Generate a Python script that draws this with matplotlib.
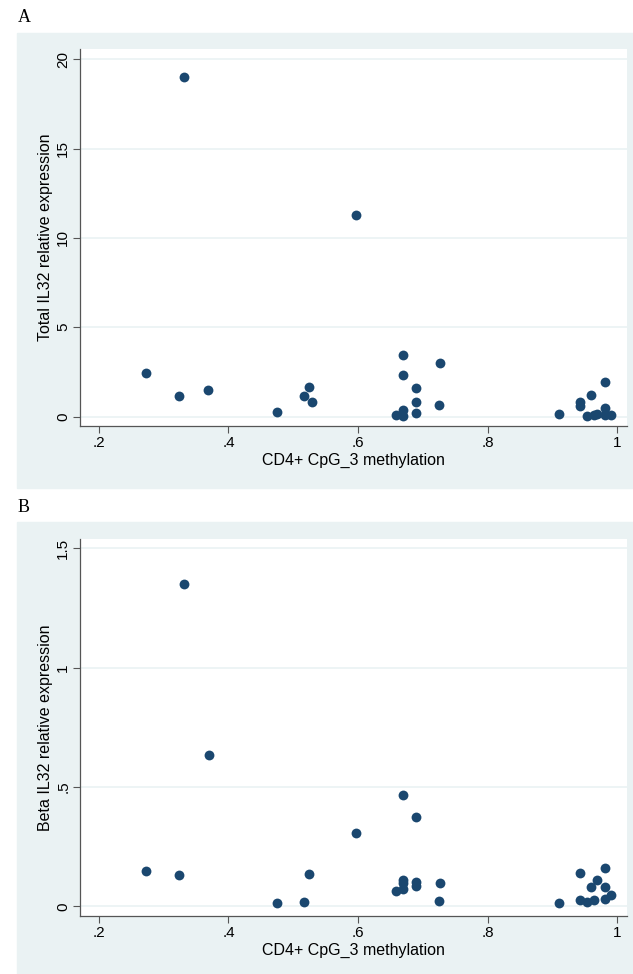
"""Two stacked Stata-style scatter panels: IL32 expression vs CD4+ CpG_3 methylation."""
import matplotlib; matplotlib.use("Agg")
import matplotlib.pyplot as plt
from matplotlib.patches import Rectangle

# panel A: total IL32
xa = [0.331, 0.597, 0.2725, 0.324, 0.369, 0.475, 0.516, 0.525, 0.529, 0.659,
      0.669, 0.669, 0.669, 0.669, 0.690, 0.690, 0.690, 0.726, 0.725, 0.910,
      0.943, 0.943, 0.960, 0.953, 0.964, 0.969, 0.981, 0.981, 0.981, 0.990]
ya = [19.03, 11.3, 2.45, 1.17, 1.49, 0.28, 1.15, 1.66, 0.81, 0.11,
      3.43, 2.32, 0.36, 0.04, 1.62, 0.83, 0.21, 2.98, 0.64, 0.15,
      0.83, 0.57, 1.19, 0.04, 0.06, 0.15, 1.96, 0.45, 0.08, 0.08]
# panel B: beta IL32
xb = [0.331, 0.370, 0.2725, 0.324, 0.475, 0.516, 0.525, 0.597, 0.659,
      0.669, 0.669, 0.669, 0.669, 0.690, 0.690, 0.690, 0.726, 0.725, 0.910,
      0.943, 0.943, 0.953, 0.960, 0.964, 0.969, 0.981, 0.981, 0.981, 0.990]
yb = [1.35, 0.635, 0.147, 0.131, 0.0125, 0.018, 0.135, 0.306, 0.064,
      0.465, 0.1125, 0.100, 0.075, 0.376, 0.104, 0.0875, 0.100, 0.022, 0.014,
      0.142, 0.028, 0.018, 0.081, 0.028, 0.111, 0.161, 0.083, 0.033, 0.046]

XT = [0.2, 0.4, 0.6, 0.8, 1.0]; XTL = [".2", ".4", ".6", ".8", "1"]
YTA = [0, 5, 10, 15, 20]; YTLA = ["0", "5", "10", "15", "20"]
YTB = [0, 0.5, 1.0, 1.5]; YTLB = ["0", ".5", "1", "1.5"]

BG = "#eaf2f3"; NAVY = "#1a476f"
W, H = 633, 974
fig = plt.figure(figsize=(W/100, H/100), dpi=100)
plt.rcParams["font.family"] = ["Liberation Sans", "DejaVu Sans"]

def fr(x0, y0, x1, y1):  # pixel box -> figure fraction [l,b,w,h]
    return [x0/W, 1-y1/H, (x1-x0)/W, (y1-y0)/H]

def panel(bg_box, ax_box, x, y, yt, ytl, ylim, ylab, letter, ly):
    fig.patches.append(Rectangle((bg_box[0], bg_box[1]), bg_box[2], bg_box[3],
                                 transform=fig.transFigure, color=BG, zorder=-5))
    fig.text(18/W, 1-ly/H, letter, family="Liberation Serif", fontsize=13, va="center", ha="left")
    ax = fig.add_axes(ax_box)
    ax.set_facecolor("white")
    ax.scatter(x, y, s=50, color=NAVY, zorder=3, linewidths=0)
    ax.set_xlim(0.1707, 1.0154); ax.set_ylim(*ylim)
    ax.set_xticks(XT, XTL); ax.set_yticks(yt, ytl)
    for t in ax.get_yticklabels():
        t.set_rotation(90); t.set_va("center")
    ax.tick_params(labelsize=11, length=5, color="#555555", width=0.8, pad=2)
    for s in ["top", "right"]: ax.spines[s].set_visible(False)
    for s in ["left", "bottom"]:
        ax.spines[s].set_color("#555555"); ax.spines[s].set_linewidth(0.9)
    ax.grid(axis="y", color=BG, lw=1.2, zorder=1); ax.set_axisbelow(True)
    ax.set_xlabel("CD4+ CpG_3 methylation", fontsize=11.5, labelpad=2)
    ax.set_ylabel(ylab, fontsize=11.5, labelpad=2)
    return ax

panel(fr(17, 33, 633, 488), fr(80, 49, 627, 426), xa, ya, YTA, YTLA, (-0.53, 20.58),
      "Total IL32 relative expression", "A", 18)
panel(fr(17, 522, 633, 974), fr(80, 539, 627, 916), xb, yb, YTB, YTLB, (-0.04, 1.538),
      "Beta IL32 relative expression", "B", 507)

fig.savefig("out.png", dpi=100)
